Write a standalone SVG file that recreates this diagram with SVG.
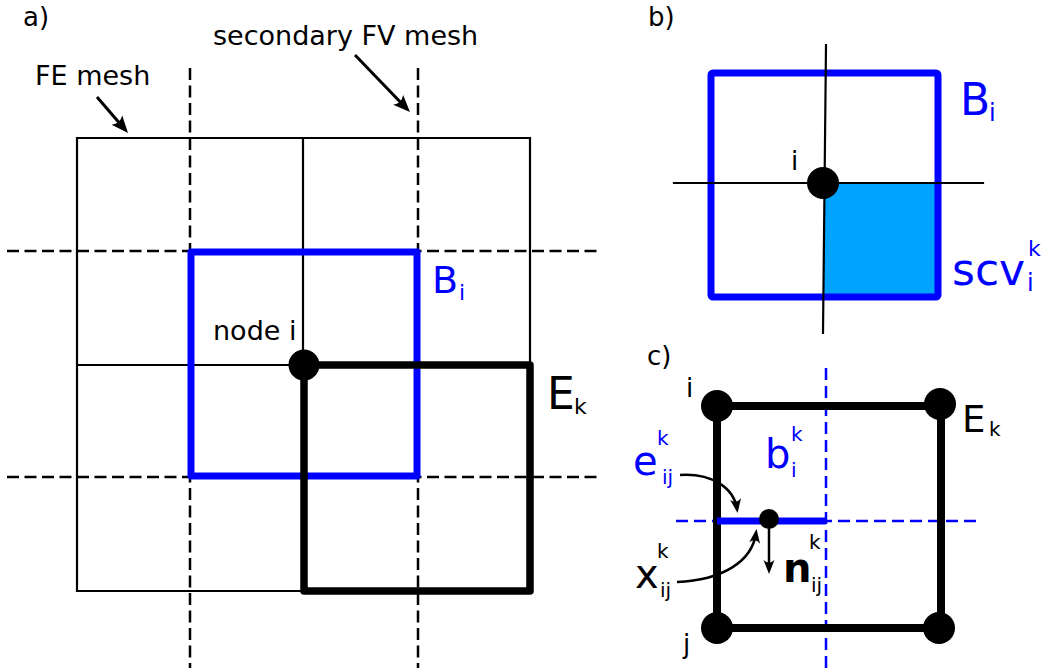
<svg xmlns="http://www.w3.org/2000/svg" width="1043" height="668" viewBox="0 0 1043 668">
<style>
text{font-family:"DejaVu Sans","Liberation Sans",sans-serif;fill:#000}
.blue{fill:#0000ff}
.thin{stroke:#000;stroke-width:2.2;fill:none;stroke-linecap:square}
.thick{stroke:#000;stroke-width:7.5;fill:none;stroke-linejoin:round;stroke-linecap:round}
.dash{stroke:#000;stroke-width:2.5;fill:none;stroke-dasharray:12 5.5}
.bdash{stroke:#0000ff;stroke-width:2.5;fill:none;stroke-dasharray:12 6}
.bbox{stroke:#0000ff;stroke-width:7;fill:none;stroke-linejoin:round}
.arr{stroke:#000;stroke-width:3;fill:none}
.arrs{stroke:#000;stroke-width:2.5;fill:none}
</style>
<defs>
<marker id="ah" markerUnits="userSpaceOnUse" markerWidth="40" markerHeight="40" refX="0" refY="0" orient="auto" overflow="visible">
<path d="M6,0 L-11,-7 Q-6,0 -11,7 Z" fill="#000"/>
</marker>
<marker id="ahs" markerUnits="userSpaceOnUse" markerWidth="30" markerHeight="30" refX="0" refY="0" orient="auto" overflow="visible">
<path d="M4,0 L-10,-5.5 Q-5,0 -10,5.5 Z" fill="#000"/>
</marker>
</defs>
<rect width="1043" height="668" fill="#fff"/>

<g id="panel-a">
<text x="23" y="26" font-size="26">a)</text>
<g id="fe-mesh">
<path class="thin" d="M77,138 H530 M77,138 V591 M303,138 V365 M530,138 V365 M77,365 H303 M77,591 H303"/>
</g>
<g id="fv-mesh">
<path class="dash" d="M190,68 V668 M418,68 V668 M7,251 H600 M7,477 H600"/>
</g>
<g id="Bi-a">
<rect class="bbox" x="191" y="252" width="226" height="224"/>
<text class="blue" x="432" y="293" font-size="38">B</text>
<text class="blue" x="459" y="300" font-size="22">i</text>
</g>
<g id="Ek-a">
<rect class="thick" x="304" y="365" width="226" height="226"/>
<text x="547" y="409" font-size="44">E</text>
<text x="574" y="414" font-size="22">k</text>
</g>
<g id="node-i-a">
<circle cx="304" cy="365" r="15.5" fill="#000"/>
<text x="213" y="340" font-size="27">node i</text>
</g>
<g id="label-fe">
<text x="35" y="85" font-size="27">FE mesh</text>
</g>
<g id="label-fv">
<text x="213" y="45" font-size="27">secondary FV mesh</text>
</g>
</g>

<g id="panel-b">
<text x="648" y="26" font-size="26">b)</text>
<g id="scv">
<rect x="824" y="183" width="114" height="114" fill="#00a4ff"/>
<text class="blue" x="952" y="285" font-size="44">scv</text>
<text class="blue" x="1028" y="256" font-size="22">k</text>
<text class="blue" x="1027" y="291" font-size="24">i</text>
</g>
<g id="Bi-b">
<rect class="bbox" x="711" y="73" width="227" height="224" rx="2"/>
<text class="blue" x="960" y="115" font-size="44">B</text>
<text class="blue" x="989" y="121" font-size="24">i</text>
</g>
<g id="cross-b">
<path class="thin" d="M826,45 L823,333 M674,183 H983"/>
</g>
<g id="node-i-b">
<circle cx="823" cy="183" r="16" fill="#000"/>
<text x="791" y="170" font-size="26">i</text>
</g>
</g>

<g id="panel-c">
<text x="647" y="365" font-size="26">c)</text>
<g id="fv-c">
<path class="bdash" d="M826,368 V668 M676,521 H982"/>
</g>
<g id="Ek-c">
<rect x="717" y="406" width="224" height="222" stroke="#000" stroke-width="8" fill="none"/>
<text x="962" y="432" font-size="37">E</text>
<text x="989" y="436" font-size="20">k</text>
</g>
<g id="nodes-c">
<circle cx="717" cy="406" r="16" fill="#000"/>
<circle cx="940" cy="404" r="16" fill="#000"/>
<circle cx="717" cy="628" r="16" fill="#000"/>
<circle cx="939" cy="628" r="16" fill="#000"/>
<text x="686" y="397" font-size="26">i</text>
<text x="683" y="653" font-size="26">j</text>
</g>
<g id="eij">
<path d="M717,521 H826" stroke="#0000ff" stroke-width="7" fill="none"/>
<text class="blue" x="633" y="475" font-size="40">e</text>
<text class="blue" x="657" y="445" font-size="20">k</text>
<text class="blue" x="662" y="484" font-size="20">ij</text>
</g>
<g id="bik">
<text class="blue" x="765" y="468" font-size="40">b</text>
<text class="blue" x="791" y="441" font-size="20">k</text>
<text class="blue" x="791" y="477" font-size="20">i</text>
</g>
<g id="xij">
<circle cx="769" cy="519" r="10" fill="#000"/>
<text x="635" y="588" font-size="40">x</text>
<text x="657" y="558" font-size="20">k</text>
<text x="660" y="597" font-size="20">ij</text>
</g>
<g id="nij">
<text x="783" y="582" font-size="40" font-weight="bold">n</text>
<text x="809" y="549" font-size="20">k</text>
<text x="811" y="592" font-size="20">ij</text>
</g>
</g>

<g id="connectors">
<path class="arr" d="M97,97 L124.1,128.5" marker-end="url(#ah)"/>
<path class="arr" d="M355,55 L405.8,107.7" marker-end="url(#ah)"/>
<path class="arrs" d="M769,528 V570" marker-end="url(#ahs)"/>
<path class="arrs" d="M680,475 C712,473 734,488 737,509" marker-end="url(#ahs)"/>
<path class="arrs" d="M677,582 C722,580 752,562 756,533" marker-end="url(#ahs)"/>
</g>
</svg>
